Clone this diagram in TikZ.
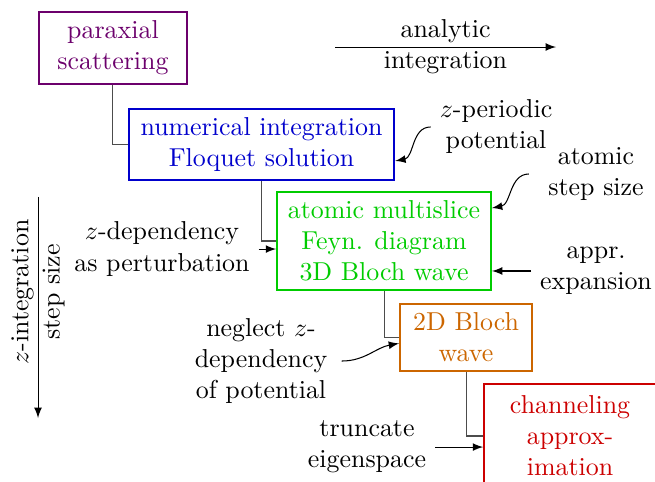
\documentclass[tikz,border=0pt]{standalone}
\begin{document}
\begin{tikzpicture}[>=latex,
    box/.style={draw, thick, align=center, inner sep=3pt},
    conn/.style={draw=black!70}]
  \useasboundingbox (0, 0) rectangle (8.888, 6.527);

  \node [box, draw=violet!85!black, text=violet!85!black, minimum width=2.01cm, minimum height=0.98cm]
    (para) at (1.533, 5.876) {paraxial\\scattering};
  \node [box, draw=blue!80!black, text=blue!80!black, minimum width=3.60cm, minimum height=0.96cm]
    (numint) at (3.549, 4.566) {numerical integration\\Floquet solution};
  \node [box, draw=green!80!black, text=green!80!black, minimum width=2.90cm, minimum height=1.33cm]
    (multi) at (5.211, 3.257) {atomic multislice\\Feyn. diagram\\3D Bloch wave};
  \node [box, draw=orange!80!black, text=orange!80!black, minimum width=1.79cm, minimum height=0.91cm]
    (bloch) at (6.324, 1.947) {2D Bloch\\wave};
  \node [box, draw=red!80!black, text=red!80!black, minimum width=2.33cm, minimum height=1.41cm]
    (chan) at (7.735, 0.611) {channeling\\approx-\\imation};

  \draw [conn] (para.south) |- (numint.west);
  \draw [conn] (numint.south) |- (multi.west);
  \draw [conn] (multi.south) |- (bloch.west);
  \draw [conn] (bloch.south) |- (chan.west);

  \coordinate (ana1) at (4.546, 5.889);
  \coordinate (ana2) at (7.545, 5.889);
  \draw [->] (ana1) -- node [align=center] {analytic\\integration} (ana2);

  \coordinate (zs1) at (0.516, 3.854);
  \coordinate (zs2) at (0.516, 0.855);
  \draw [->] (zs1) -- node [pos=0.43, rotate=90, align=center] {$z$-integration\\step size} (zs2);

  \node [align=center] (zper) at (6.731, 4.804) {$z$-periodic\\potential};
  \draw [->] (zper.west) to [out=180, in=10] (numint.-7);

  \node [align=center] (atstep) at (8.088, 4.166) {atomic\\step size};
  \draw [->] ([xshift=-4pt]atstep.west) to [out=180, in=10] (multi.17);

  \node [align=center] (appr) at (8.088, 2.850) {appr.\\expansion};
  \draw [->] (appr.west) -- (appr.west -| multi.east);

  \node [align=center] (zdep) at (2.198, 3.148) {$z$-dependency\\as perturbation};
  \draw [->] (zdep.east) -- (zdep.east -| multi.west);

  \node [align=center] (negl) at (3.542, 1.628) {neglect $z$-\\dependency\\of potential};
  \draw [->] ([xshift=2pt]negl.east) to [out=0, in=190] (bloch.185);

  \node [align=center] (trunc) at (4.980, 0.461) {truncate\\eigenspace};
  \draw [->] (trunc.east) -- (trunc.east -| chan.west);
\end{tikzpicture}
\end{document}
